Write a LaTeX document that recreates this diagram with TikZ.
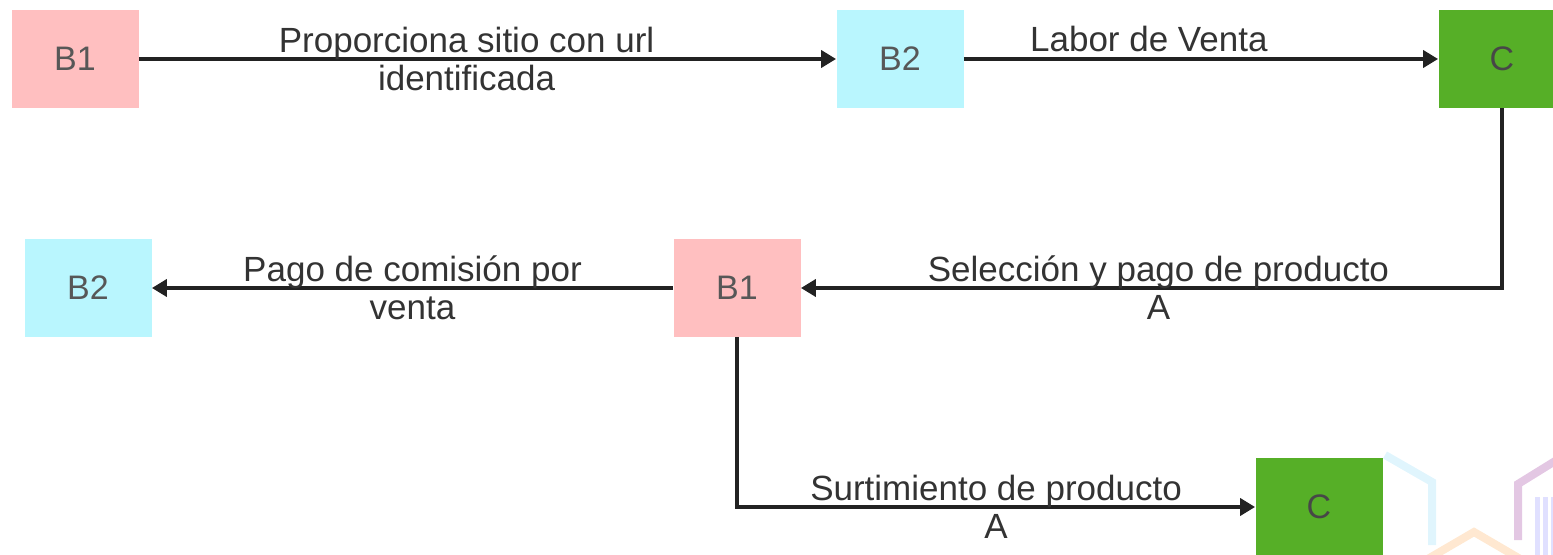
\documentclass[tikz,border=0pt]{standalone}
\usepackage{fontspec}
\setmainfont{Liberation Sans}
\usetikzlibrary{arrows.meta}
\definecolor{rosa}{HTML}{FFBFC0}
\definecolor{celeste}{HTML}{B9F6FE}
\definecolor{verde}{HTML}{56AF27}
\definecolor{flecha}{HTML}{222222}
\definecolor{texto}{HTML}{333333}

\begin{document}
\begin{tikzpicture}[x=0.5pt,y=-0.5pt,
    actor/.style={minimum width=63.5pt,minimum height=49pt,inner sep=0pt,
      text=black!66,font=\fontsize{17}{19}\selectfont},
    flujo/.style={line width=2.3pt,draw=flecha,-{Triangle[length=7.5pt,width=8.5pt]}},
    etiqueta/.style={text=texto,align=center,font=\fontsize{17.5}{19}\selectfont}]
  \useasboundingbox (0,0) rectangle (1553,555);
  % marca de agua
  \draw[line width=4pt,color=cyan!12] (1385,455) -- (1432,482) -- (1432,545);
  \draw[line width=4pt,color=violet!22] (1560,458) -- (1518,484) -- (1518,540);
  \draw[line width=4pt,color=orange!18] (1426,560) -- (1474,532) -- (1522,560);
  \foreach \xb in {1537,1545,1553}
    \draw[line width=2.5pt,color=blue!12] (\xb,497) -- (\xb,560);
  % fila de arriba
  \node[actor,fill=rosa] (B1a) at (75,59) {B1};
  \node[actor,fill=celeste] (B2a) at (900,59) {B2};
  \node[actor,fill=verde,text=black!72] (Ca) at (1502,59) {C};
  % fila de en medio
  \node[actor,fill=celeste] (B2b) at (88,288) {B2};
  \node[actor,fill=rosa] (B1b) at (737,288) {B1};
  % abajo
  \node[actor,fill=verde,text=black!72] (Cb) at (1319,507) {C};
  \draw[flujo] (B1a) -- node[etiqueta,pos=0.47] {Proporciona sitio con url\\identificada} (B2a);
  \draw[flujo] (B2a) -- node[etiqueta,pos=0.39,above=-1pt] {Labor de Venta} (Ca);
  \draw[flujo] (Ca.south) |- node[etiqueta,pos=0.745] {Selección y pago de producto\\A} (B1b.east);
  \draw[flujo] (B1b) -- node[etiqueta] {Pago de comisión por\\venta} (B2b);
  \draw[flujo] (B1b.south) |- node[etiqueta,pos=0.75] {Surtimiento de producto\\A} (Cb.west);
\end{tikzpicture}
\end{document}
